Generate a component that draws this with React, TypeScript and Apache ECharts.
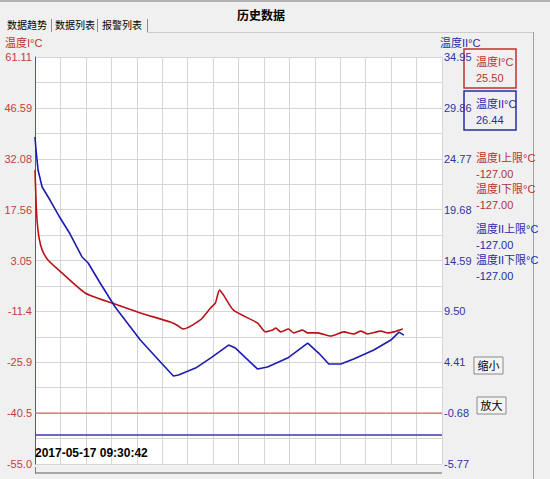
import React, { useEffect, useRef } from "react";
import * as echarts from "echarts";

// ---- data ----
const startTime = "2017-05-17 09:30:42";
const leftTicks = ["61.11", "46.59", "32.08", "17.56", "3.05", "-11.4", "-25.9", "-40.5", "-55.0"];
const rightTicks = ["34.95", "29.86", "24.77", "19.68", "14.59", "9.50", "4.41", "-0.68", "-5.77"];
const leftMin = -55.0;
const leftMax = 61.11;
const rightMin = -5.77;
const rightMax = 34.95;
const xMin = 0;
const xMax = 160;

const tempIX = [0, 0.4, 0.8, 1.6, 2.8, 5.1, 10.6, 19.7, 30.3, 41.4, 53.2, 55.9, 58.3, 65.0, 69.0, 70.9, 72.5, 74.1, 78.0, 87.5, 90.6, 93.4, 94.6, 96.6, 99.7, 101.7, 105.2, 107.2, 111.1, 116.3, 121.4, 125.3, 128.1, 130.8, 136.0, 138.7, 141.1, 144.6];
const tempIValues = [28.9, 20.3, 14.6, 9.5, 6.1, 3.2, -0.5, -6.2, -9.1, -11.9, -14.5, -15.4, -16.5, -13.9, -10.5, -9.1, -5.4, -6.8, -11.1, -14.8, -17.3, -16.8, -16.2, -17.3, -16.5, -17.6, -16.8, -17.6, -17.6, -18.5, -17.3, -17.9, -17.1, -17.9, -17.1, -17.6, -17.3, -16.5];

const tempIIX = [0, 0.4, 1.2, 2.8, 5.9, 9.9, 13.8, 18.5, 20.9, 25.6, 31.5, 41.4, 49.3, 54.4, 56.4, 63.1, 69.0, 76.1, 78.8, 87.5, 91.4, 99.3, 107.2, 111.5, 115.5, 120.2, 125.3, 133.2, 139.9, 143.1, 145.0];
const tempIIValues = [26.95, 25.65, 23.64, 21.94, 20.64, 18.84, 17.24, 14.94, 14.34, 12.34, 9.94, 6.64, 4.43, 3.03, 3.13, 3.83, 4.83, 6.13, 5.83, 3.73, 3.93, 4.83, 6.33, 5.33, 4.23, 4.23, 4.73, 5.63, 6.63, 7.43, 7.13];

const tempILine = -40.5;
const tempIILine = -2.87;

const legendItems = [
  { name: "温度I°C", value: "25.50", color: "#c03030" },
  { name: "温度II°C", value: "26.44", color: "#2a2aa8" },
];
const limitItems = [
  { name: "温度I上限°C", value: "-127.00", color: "#b83030" },
  { name: "温度I下限°C", value: "-127.00", color: "#b83030" },
  { name: "温度II上限°C", value: "-127.00", color: "#2a2aa8" },
  { name: "温度II下限°C", value: "-127.00", color: "#2a2aa8" },
];
const tabs = ["数据趋势", "数据列表", "报警列表"];

const FONT = "'Liberation Sans', 'Noto Sans CJK SC', sans-serif";
const RED = "#b81418";
const BLUE = "#1c1cb0";

export default function App() {
  const ref = useRef<HTMLDivElement>(null);
  useEffect(() => {
    if (!ref.current) return;
    const chart = echarts.init(ref.current, null, { renderer: "svg" });

    const graphics: any[] = [];
    graphics.push({ type: "rect", shape: { x: 0, y: 0, width: 550, height: 2 }, style: { fill: "#b4b4b4" } });
    // tabs
    const tabX = [7, 55, 102];
    const sepX = [51, 97, 147];
    tabs.forEach((t, i) => {
      graphics.push({ type: "text", x: tabX[i], y: 25, style: { text: t, fill: "#000", font: `10px ${FONT}`, verticalAlign: "middle" } });
      graphics.push({ type: "rect", shape: { x: sepX[i], y: 19, width: 1, height: 13 }, style: { fill: "#8c8c8c" } });
    });
    graphics.push({ type: "text", x: 261, y: 16, style: { text: "历史数据", fill: "#000", font: `bold 12px ${FONT}`, align: "center", verticalAlign: "middle" } });
    graphics.push({ type: "rect", shape: { x: 147, y: 32, width: 386, height: 1 }, style: { fill: "#cccccc" } });
    graphics.push({ type: "rect", shape: { x: 533, y: 32, width: 1, height: 447 }, style: { fill: "#a0a0a0" } });
    // axis titles
    graphics.push({ type: "text", x: 5, y: 43, style: { text: "温度I°C", fill: "#c03030", font: `11px ${FONT}`, verticalAlign: "middle" } });
    graphics.push({ type: "text", x: 440, y: 43, style: { text: "温度II°C", fill: "#2a2aa8", font: `11px ${FONT}`, verticalAlign: "middle" } });
    // legend boxes
    const boxY = [49, 91];
    legendItems.forEach((it, i) => {
      graphics.push({ type: "rect", shape: { x: 464, y: boxY[i], width: 52, height: 39 }, style: { fill: "none", stroke: it.color, lineWidth: 1.5 } });
      graphics.push({ type: "text", x: 476, y: boxY[i] + 13, style: { text: it.name, fill: it.color, font: `11px ${FONT}`, verticalAlign: "middle" } });
      graphics.push({ type: "text", x: 476, y: boxY[i] + 29, style: { text: it.value, fill: it.color, font: `11px ${FONT}`, verticalAlign: "middle" } });
    });
    const limY = [158, 189, 229, 260];
    limitItems.forEach((it, i) => {
      graphics.push({ type: "text", x: 476, y: limY[i], style: { text: it.name, fill: it.color, font: `11px ${FONT}`, verticalAlign: "middle" } });
      graphics.push({ type: "text", x: 476, y: limY[i] + 16, style: { text: it.value, fill: it.color, font: `11px ${FONT}`, verticalAlign: "middle" } });
    });
    // buttons
    const buttons = [
      { text: "缩小", x: 474, y: 357 },
      { text: "放大", x: 477, y: 397 },
    ];
    buttons.forEach((b) => {
      graphics.push({ type: "rect", shape: { x: b.x, y: b.y, width: 29, height: 17 }, style: { fill: "#f4f4f4", stroke: "#8a8a8a", lineWidth: 1 } });
      graphics.push({ type: "text", x: b.x + 14.5, y: b.y + 9, style: { text: b.text, fill: "#000", font: `11px ${FONT}`, align: "center", verticalAlign: "middle" } });
    });
    // bottom scroll line
    graphics.push({ type: "rect", shape: { x: 35, y: 472, width: 407, height: 2 }, style: { fill: "#a8a8a8" } });
    graphics.push({ type: "rect", shape: { x: 35, y: 467, width: 1, height: 7 }, style: { fill: "#808080" } });

    const gridColor = "#d6d6d6";
    const toPairs = (xs: number[], ys: number[]) => xs.map((x, i) => [x, ys[i]]);

    chart.setOption({
      animation: false,
      backgroundColor: "#f0f0f0",
      textStyle: { fontFamily: FONT },
      grid: { left: 35, top: 57, width: 407, height: 407, show: true, backgroundColor: "#ffffff", borderWidth: 0 },
      xAxis: {
        type: "value",
        min: xMin,
        max: xMax,
        interval: 10,
        axisLine: { show: false },
        axisTick: { show: false },
        splitLine: { show: true, lineStyle: { color: gridColor, width: 1 } },
        axisLabel: {
          inside: true,
          margin: 5,
          align: "left",
          color: "#000",
          fontWeight: "bold",
          fontSize: 12,
          showMaxLabel: false,
          formatter: (v: number) => (v === 0 ? startTime : ""),
        },
      },
      yAxis: [
        {
          type: "value",
          position: "left",
          min: 0,
          max: 16,
          interval: 1,
          axisLine: { show: true, lineStyle: { color: "#c03030", width: 1 } },
          axisTick: { show: false },
          splitLine: { show: true, lineStyle: { color: gridColor, width: 1 } },
          axisLabel: {
            color: "#c04040",
            fontSize: 11,
            margin: 3,
            formatter: (v: number) => (v % 2 === 0 ? leftTicks[(16 - v) / 2] : ""),
          },
        },
        {
          type: "value",
          position: "right",
          min: 0,
          max: 16,
          interval: 1,
          axisLine: { show: false },
          axisTick: { show: false },
          splitLine: { show: false },
          axisLabel: {
            color: "#3030a8",
            fontSize: 11,
            margin: 2,
            formatter: (v: number) => (v % 2 === 0 ? rightTicks[(16 - v) / 2] : ""),
          },
        },
        { type: "value", position: "left", min: leftMin, max: leftMax, show: false, splitLine: { show: false } },
        { type: "value", position: "right", min: rightMin, max: rightMax, show: false, splitLine: { show: false } },
      ],
      series: [
        {
          type: "line",
          name: "温度I下线",
          yAxisIndex: 2,
          data: [[xMin, tempILine], [xMax, tempILine]],
          symbol: "none",
          silent: true,
          lineStyle: { color: "#c87060", width: 1.3 },
          itemStyle: { color: "#c87060" },
        },
        {
          type: "line",
          name: "温度II下线",
          yAxisIndex: 3,
          data: [[xMin, tempIILine], [xMax, tempIILine]],
          symbol: "none",
          silent: true,
          lineStyle: { color: "#3a3aa8", width: 1.3 },
          itemStyle: { color: "#3a3aa8" },
        },
        {
          type: "line",
          name: "温度I°C",
          yAxisIndex: 2,
          data: toPairs(tempIX, tempIValues),
          symbol: "none",
          smooth: 0.2,
          lineStyle: { color: RED, width: 1.6 },
          itemStyle: { color: RED },
        },
        {
          type: "line",
          name: "温度II°C",
          yAxisIndex: 3,
          data: toPairs(tempIIX, tempIIValues),
          symbol: "none",
          lineStyle: { color: BLUE, width: 1.6 },
          itemStyle: { color: BLUE },
        },
      ],
      graphic: graphics,
    });
    return () => chart.dispose();
  }, []);
  return <div ref={ref} style={{ position: "fixed", left: 0, top: 0, width: 550, height: 479 }} />;
}
